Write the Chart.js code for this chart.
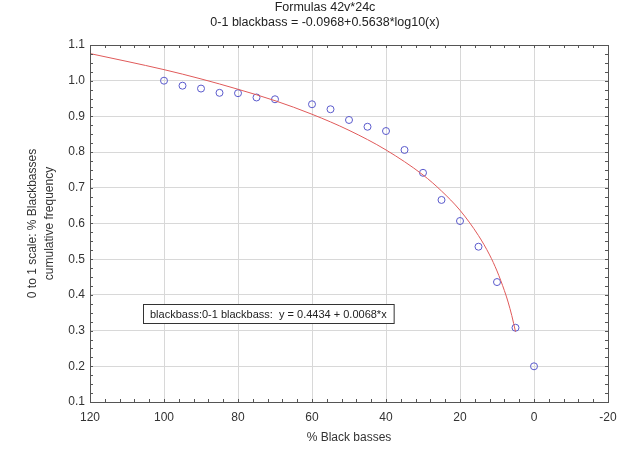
<!DOCTYPE html>
<html><head><meta charset="utf-8">
<script src="https://cdn.jsdelivr.net/npm/chart.js@4.4.0/dist/chart.umd.min.js"></script>
<style>html,body{margin:0;padding:0;background:#fff}#wrap{width:625px;height:461px;position:relative}</style>
</head><body><div id="wrap"><canvas id="c" width="625" height="461"></canvas></div>
<script>
const titleLines = ["Formulas 42v*24c", "0-1 blackbass = -0.0968+0.5638*log10(x)"];
const xAxisTitle = "% Black basses";
const yAxisTitle = ["0 to 1 scale: % Blackbasses", "cumulative frequency"];
const legendText = "blackbass:0-1 blackbass:  y = 0.4434 + 0.0068*x";

const pctBlackBass = [100, 95, 90, 85, 80, 75, 70, 60, 55, 50, 45, 40, 35, 30, 25, 20, 15, 10, 5, 0];
const cumFreq = [1.0, 0.986, 0.978, 0.966, 0.965, 0.953, 0.948, 0.934, 0.92, 0.89, 0.871, 0.859, 0.806, 0.742, 0.666, 0.607, 0.535, 0.436, 0.308, 0.2];

const fitX = [120, 110, 100, 90, 80, 70, 60, 50, 40, 30, 25, 20, 15, 12, 10, 8, 7, 6, 5];
const fitY = [1.076, 1.054, 1.031, 1.005, 0.976, 0.944, 0.906, 0.861, 0.806, 0.736, 0.691, 0.637, 0.566, 0.512, 0.467, 0.412, 0.380, 0.342, 0.297];

const xTicks = [120, 100, 80, 60, 40, 20, 0, -20];
const yTicks = [0.1, 0.2, 0.3, 0.4, 0.5, 0.6, 0.7, 0.8, 0.9, 1.0, 1.1];

const FONT = "'Liberation Sans', Arial, sans-serif";

const framePlugin = {
  id: 'frame',
  afterDraw(chart) {
    const {ctx, chartArea: a, scales: {x, y}} = chart;
    ctx.save();
    ctx.strokeStyle = '#555';
    ctx.lineWidth = 1;
    ctx.strokeRect(Math.round(a.left) + 0.5, Math.round(a.top) + 0.5, Math.round(a.right - a.left), Math.round(a.bottom - a.top));
    // minor ticks
    ctx.beginPath();
    for (let v = x.min; v <= x.max + 1e-9; v += 4) {
      const px = Math.round(x.getPixelForValue(v)) + 0.5;
      ctx.moveTo(px, a.bottom); ctx.lineTo(px, a.bottom - 3);
      ctx.moveTo(px, a.top); ctx.lineTo(px, a.top + 3);
    }
    for (let v = y.min; v <= y.max + 1e-9; v += 0.025) {
      const py = Math.round(y.getPixelForValue(v)) + 0.5;
      ctx.moveTo(a.left, py); ctx.lineTo(a.left + 3, py);
      ctx.moveTo(a.right, py); ctx.lineTo(a.right - 3, py);
    }
    ctx.stroke();
    // legend box
    ctx.font = '11px ' + FONT;
    ctx.textBaseline = 'middle';
    ctx.textAlign = 'left';
    const tw = ctx.measureText(legendText).width;
    const bx = 143, by = 304, bh = 19;
    ctx.fillStyle = '#fff';
    ctx.fillRect(bx, by, tw + 14, bh);
    ctx.strokeStyle = '#333';
    ctx.strokeRect(bx + 0.5, by + 0.5, tw + 14, bh);
    ctx.fillStyle = '#222';
    ctx.fillText(legendText, bx + 7, by + bh / 2 + 1);
    // titles
    ctx.font = '12.5px ' + FONT;
    ctx.textAlign = 'center';
    ctx.fillText(titleLines[0], 325, 8);
    ctx.fillText(titleLines[1], 325, 23);
    ctx.restore();
  }
};

new Chart(document.getElementById('c'), {
  type: 'scatter',
  data: {
    datasets: [
      {
        label: 'fit',
        type: 'line',
        data: fitX.map((v, i) => ({x: v, y: fitY[i]})),
        borderColor: '#e05a5a',
        borderWidth: 1,
        pointRadius: 0,
        fill: false,
        cubicInterpolationMode: 'monotone'
      },
      {
        label: 'blackbass',
        data: pctBlackBass.map((v, i) => ({x: v, y: cumFreq[i]})),
        borderColor: '#5a5acc',
        backgroundColor: 'rgba(0,0,0,0)',
        borderWidth: 1,
        pointRadius: 3.5,
        pointStyle: 'circle'
      }
    ]
  },
  options: {
    responsive: false,
    animation: false,
    devicePixelRatio: 1,
    layout: {padding: {top: 45, right: 17, left: 0, bottom: 16}},
    plugins: {legend: {display: false}, tooltip: {enabled: false}, title: {display: false}},
    scales: {
      x: {
        type: 'linear',
        reverse: true,
        min: -20, max: 120,
        afterBuildTicks: s => { s.ticks = xTicks.map(v => ({value: v})); },
        afterFit: s => { s.height = 43; },
        ticks: {padding: 8, color: '#333', font: {family: FONT, size: 12}, callback: v => String(v)},
        grid: {color: '#d8d8d8', drawTicks: false},
        border: {display: false},
        title: {display: true, text: xAxisTitle, color: '#333', font: {family: FONT, size: 12}, padding: {top: 6, bottom: 0}}
      },
      y: {
        type: 'linear',
        min: 0.1, max: 1.1,
        afterBuildTicks: s => { s.ticks = yTicks.map(v => ({value: v})); },
        afterFit: s => { s.width = 90; },
        ticks: {padding: 5, color: '#333', font: {family: FONT, size: 12}, callback: v => v.toFixed(1)},
        grid: {color: '#d8d8d8', drawTicks: false},
        border: {display: false},
        title: {display: true, text: yAxisTitle, color: '#333', font: {family: FONT, size: 12, lineHeight: 1.4}, padding: {top: 24, bottom: 0}}
      }
    }
  },
  plugins: [framePlugin]
});
</script>
</body></html>
